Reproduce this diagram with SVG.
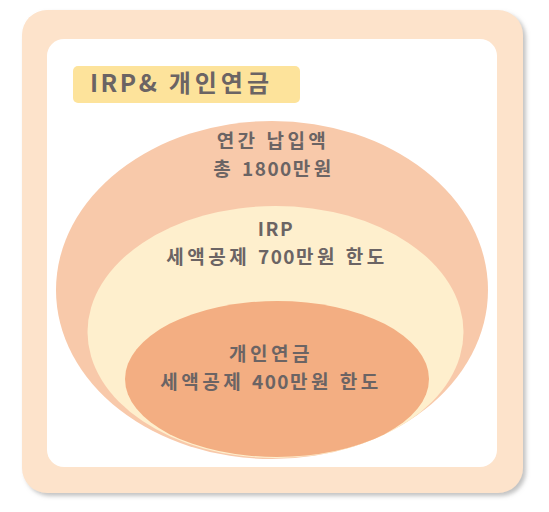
<svg xmlns="http://www.w3.org/2000/svg" width="549" height="512" viewBox="0 0 549 512">
<defs>
<filter id="sh" x="-5%" y="-5%" width="110%" height="110%">
<feDropShadow dx="3" dy="3" stdDeviation="2" flood-color="#9a9a9a" flood-opacity="0.6"/>
</filter>
<style>
.t{font-family:"Noto Sans CJK KR","Noto Sans",sans-serif;font-weight:bold;fill:#6b6464;text-anchor:middle;font-size:19px;letter-spacing:3.5px}
.n{letter-spacing:1.5px}
</style>
</defs>
<rect width="549" height="512" fill="#ffffff"/>
<g id="frame">
<rect x="22" y="10" width="501" height="483" rx="25" fill="#fde3cb" filter="url(#sh)"/>
<rect x="47" y="39" width="450" height="428" rx="17" fill="#ffffff"/>
</g>
<g id="title">
<rect x="73" y="66" width="227" height="37" rx="5" fill="#fde39b"/>
<text x="90" y="92" font-family="Noto Sans CJK KR, Noto Sans, sans-serif" font-weight="bold" font-size="24" fill="#6b6464" letter-spacing="4"><tspan font-size="24.5" letter-spacing="2.5">IRP&amp;</tspan> 개인연금</text>
</g>
<g id="annual">
<ellipse cx="272" cy="290" rx="216" ry="169" fill="#f8c9aa"/>
<text class="t" x="273" y="148.3">연간 납입액</text>
<text class="t" x="274" y="176.3">총 <tspan class="n">1800</tspan>만원</text>
</g>
<g id="irp">
<ellipse cx="275.5" cy="332" rx="188" ry="126" fill="#feefcd"/>
<text class="t" x="276" y="236.3"><tspan class="n">IRP</tspan></text>
<text class="t" x="277" y="264.3">세액공제 <tspan class="n">700</tspan>만원 한도</text>
</g>
<g id="pension">
<ellipse cx="277" cy="379" rx="152" ry="78" fill="#f3ae82"/>
<text class="t" x="271" y="360.5">개인연금</text>
<text class="t" x="271" y="388.5">세액공제 <tspan class="n">400</tspan>만원 한도</text>
</g>
<g id="connectors"/>
</svg>
